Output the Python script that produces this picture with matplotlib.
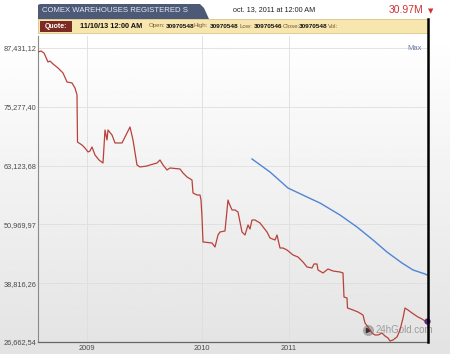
import numpy as np
import matplotlib.pyplot as plt
from matplotlib.patches import Rectangle, Polygon
from matplotlib.lines import Line2D

# Registered stocks (millions), x is the chart's session index
red_t = [0, 3, 6, 10, 12, 15, 20, 25, 29, 34, 37, 39, 39.5, 44, 47, 50, 52, 54, 57, 61,
         65, 67, 69, 70, 74, 77, 84, 87, 92, 95, 99, 102, 109, 112, 119, 122, 125, 129, 132, 142,
         145, 149, 154, 155, 159, 162, 163, 164, 165, 174, 177, 180, 182, 187, 190, 191, 194, 197, 200, 204,
         207, 210, 212, 214, 217, 222, 229, 232, 237, 239, 242, 245, 249, 255, 260, 265, 269, 274, 276, 279,
         280, 285, 290, 295, 302, 305, 306, 309, 309.5, 315, 320, 325, 327, 330, 334, 337, 340, 344, 347, 350,
         352, 355, 359, 362, 365, 367, 370, 374, 377, 380, 384, 387, 389]
red_v = [86.61, 86.81, 86.40, 84.54, 84.74, 84.13, 83.30, 82.27, 80.41, 80.20, 79.16, 77.72, 68.00, 67.38, 66.76, 65.94, 66.14, 66.97, 65.32, 64.28,
         63.66, 70.48, 68.42, 70.48, 69.45, 67.80, 67.80, 69.04, 71.10, 68.42, 63.25, 62.84, 63.04, 63.25, 63.66, 64.28, 63.25, 62.22, 62.63, 62.42,
         61.60, 60.77, 60.15, 57.46, 57.05, 57.05, 56.01, 52.50, 47.33, 47.13, 46.30, 48.78, 49.40, 49.61, 56.01, 55.39, 53.95, 53.95, 53.53, 49.40,
         48.78, 50.85, 50.02, 51.88, 51.88, 51.26, 49.40, 48.16, 47.75, 48.78, 46.09, 46.09, 45.68, 44.65, 44.23, 43.20, 42.17, 41.96, 42.79, 42.79,
         41.55, 40.93, 41.75, 41.34, 41.13, 40.93, 35.96, 35.76, 33.69, 33.28, 32.86, 32.24, 30.59, 29.76, 28.52, 28.11, 28.11, 28.52, 27.90, 27.49,
         26.87, 27.08, 27.70, 29.14, 31.62, 33.69, 33.28, 32.66, 32.24, 31.83, 31.42, 31.00, 30.97]

# Moving average (blue)
blue_t = [214, 232, 250, 269, 282, 302, 319, 335, 349, 364, 375, 387, 389]
blue_v = [64.49, 61.80, 58.49, 56.63, 55.39, 52.91, 50.43, 47.75, 45.26, 42.99, 41.55, 40.72, 40.51]

y_ticks = [26.66254, 38.81626, 50.96997, 63.12368, 75.27740, 87.43112]
y_labels = ["26,662,54", "38,816,26", "50,969,97", "63,123,68", "75,277,40", "87,431,12"]
x_ticks = [49, 164, 251]
x_labels = ["2009", "2010", "2011"]

# quote row
quote_labels = ["Open:", "High:", "Low:", "Close:", "Vol:"]
quote_values = ["30970548", "30970548", "30970546", "30970548"]

W, H = 450, 354
fig = plt.figure(figsize=(4.5, 3.54), dpi=100)
fig.patch.set_facecolor("white")


def fx(x):
    return x / W


def fy(y):
    return 1 - y / H


# gradient panel behind the chart
bg = fig.add_axes([0, 0, 1, fy(33)], zorder=-5)
grad = np.linspace(0.89, 1.0, 200).reshape(-1, 1)
bg.imshow(grad, aspect="auto", cmap="gray", vmin=0, vmax=1, origin="lower", extent=[0, 1, 0, 1])
bg.axis("off")

# main plot
ax = fig.add_axes([fx(38), fy(342), fx(428) - fx(38), fy(36) - fy(342)])
ax.set_facecolor("none")
ax.plot(red_t, red_v, color="#b8423a", lw=0.9, zorder=3)
ax.plot(blue_t, blue_v, color="#4f84d6", lw=1.0, zorder=3)
ax.plot([red_t[-1]], [red_v[-1]], "o", color="#5b2d7c", ms=3.5, zorder=4, clip_on=False)

ax.set_xlim(0, 390)
ax.set_ylim(26.66254, 89.91)
ax.set_yticks(y_ticks)
ax.set_yticklabels(y_labels)
ax.set_xticks(x_ticks)
ax.set_xticklabels(x_labels)
ax.tick_params(length=0, labelsize=5.3, colors="#4a4a4a", pad=1)
ax.tick_params(axis="x", pad=2.5)
for lbl in ax.get_yticklabels() + ax.get_xticklabels():
    lbl.set_family("Liberation Sans")
ax.grid(True, color="#dedede", lw=0.6)
ax.set_axisbelow(True)
for s in ["top", "right"]:
    ax.spines[s].set_visible(False)
ax.spines["left"].set_color("#8a8a8a")
ax.spines["left"].set_linewidth(0.8)
ax.spines["bottom"].set_color("#666666")
ax.spines["bottom"].set_linewidth(0.9)

ax.text(0.985, 0.97, "Max", transform=ax.transAxes, ha="right", va="top",
        fontsize=5.5, color="#6b7b99", family="Liberation Sans")

# watermark
ax.plot([0.845], [0.04], "o", transform=ax.transAxes, ms=7, color="#9a9a9a", alpha=0.7, zorder=2)
ax.plot([0.847], [0.04], ">", transform=ax.transAxes, ms=3, color="#333333", zorder=2)
ax.text(0.865, 0.04, "24hGold.com", transform=ax.transAxes, ha="left", va="center",
        fontsize=7, color="#9c9c9c", family="Liberation Sans", zorder=2)

# thick right border
fig.add_artist(Line2D([fx(428), fx(428)], [fy(19), fy(342)], color="black", lw=1.8))

# header tab
tab = Polygon([[fx(38), fy(19)], [fx(38), fy(5)], [fx(40), fy(4)], [fx(200), fy(4)],
               [fx(204), fy(8)], [fx(209), fy(19)]], closed=True, facecolor="#4c5a77",
               edgecolor="none", transform=fig.transFigure)
fig.add_artist(tab)
fig.text(fx(42), fy(11), "COMEX WAREHOUSES REGISTERED S", fontsize=5.6, color="#e6eaf2",
         va="center", ha="left", family="Liberation Sans")
fig.text(fx(274), fy(10), "oct. 13, 2011 at 12:00 AM", fontsize=5.2, color="#222222",
         va="center", ha="center", family="Liberation Sans")
fig.text(fx(423), fy(10), "30.97M", fontsize=7.5, color="#cc3333",
         va="center", ha="right", family="Liberation Sans")
fig.text(fx(431), fy(11), "▼", fontsize=5, color="#cc3333", va="center", ha="center")

# quote bar
fig.add_artist(Rectangle((fx(38), fy(33)), fx(428) - fx(38), fy(19) - fy(33),
                         facecolor="#f7e6ae", edgecolor="#d9c489", lw=0.6, transform=fig.transFigure))
fig.add_artist(Rectangle((fx(40), fy(31.5)), fx(72) - fx(40), fy(20.5) - fy(31.5),
                         facecolor="#7c2b22", edgecolor="none", transform=fig.transFigure))
fig.text(fx(56), fy(26), "Quote:", fontsize=5, color="white", weight="bold",
         va="center", ha="center", family="Liberation Sans")
fig.text(fx(80), fy(26), "11/10/13 12:00 AM", fontsize=5.3, color="#111111", weight="bold",
         va="center", ha="left", family="Liberation Sans")

label_x = [149, 194, 239, 283, 328]
value_x = [166, 210, 254, 299]
for txt, xp in zip(quote_labels, label_x):
    fig.text(fx(xp), fy(26), txt, fontsize=4.4, va="center", ha="left",
             color="#7a5a3a", family="Liberation Sans")
for txt, xp in zip(quote_values, value_x):
    fig.text(fx(xp), fy(26), txt, fontsize=4.6, va="center", ha="left",
             color="#111111", weight="bold", family="Liberation Sans")

plt.savefig("out.png", dpi=100)
